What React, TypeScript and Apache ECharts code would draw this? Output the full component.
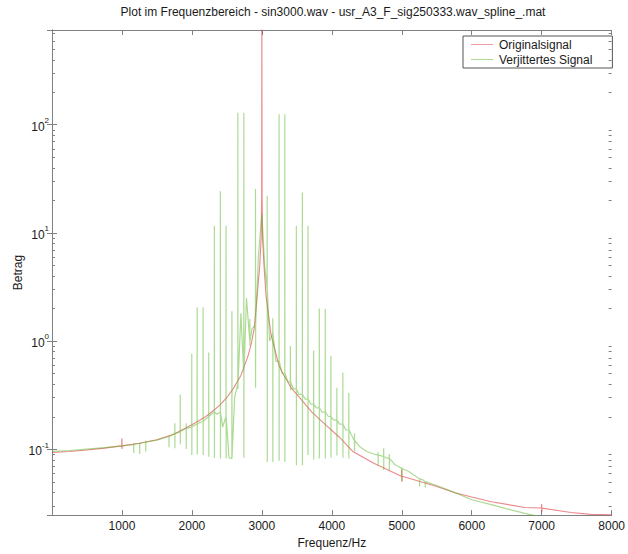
import React, { useEffect, useRef } from 'react';
import * as echarts from 'echarts';

const TITLE = 'Plot im Frequenzbereich - sin3000.wav - usr_A3_F_sig250333.wav_spline_.mat';
const X_NAME = 'Frequenz/Hz';
const Y_NAME = 'Betrag';
const SERIES_NAMES = ['Originalsignal', 'Verjittertes Signal'];

// Originalsignal (red)
const redF = [0, 250, 500, 750, 995, 1000, 1001, 1006, 1250, 1500, 1750, 2000, 2100, 2200, 2300, 2400, 2500, 2600, 2700, 2800, 2850, 2890, 2930, 2970, 2990, 2997, 3000, 3001, 3003, 3010, 3030, 3060, 3130, 3245, 3300, 3430, 3500, 3715, 3900, 4100, 4300, 4600, 4995, 5000, 5001, 5006, 5500, 5760, 6000, 6280, 6760, 6995, 7000, 7001, 7006, 7420, 7700, 8000];
const redV = [0.093, 0.095, 0.098, 0.102, 0.107, 0.126, 0.1, 0.107, 0.113, 0.122, 0.138, 0.168, 0.183, 0.2, 0.225, 0.255, 0.3, 0.37, 0.48, 0.72, 0.95, 1.3, 2.5, 5, 9, 22, 2000, 300, 22, 9, 5, 2.6, 1.15, 0.59, 0.5, 0.36, 0.32, 0.22, 0.17, 0.13, 0.095, 0.074, 0.056, 0.065, 0.05, 0.056, 0.045, 0.0395, 0.036, 0.0326, 0.0288, 0.0285, 0.031, 0.026, 0.0284, 0.0259, 0.0249, 0.0247];

// Verjittertes Signal (green): smooth part
const greenBaseF = [0, 250, 500, 750, 1000, 1100, 1200, 1300, 1400, 1500, 1600, 1700, 1800, 1870, 1950, 2030, 2110, 2200, 2280, 2360, 2440, 2530, 2610, 2700, 2780, 2860, 2950, 3000, 3040, 3110, 3200, 3290, 3370, 3450, 3530, 3620, 3700, 3780, 3860, 3950, 4030, 4110, 4200, 4280, 4400, 4500, 4600, 4700, 4780, 4900, 5100, 5200, 5300, 5500, 5760, 6000, 6280, 6500, 6760, 7000, 7500, 8000];
const greenBaseV = [0.095, 0.097, 0.1, 0.103, 0.107, 0.109, 0.112, 0.115, 0.118, 0.121, 0.127, 0.133, 0.142, 0.15, 0.157, 0.165, 0.176, 0.19, 0.21, 0.21, 0.16, 0.083, 0.3, 1.8, 2.5, 1.3, 6, 15, 5, 1.0, 0.65, 0.5, 0.42, 0.36, 0.32, 0.29, 0.26, 0.24, 0.22, 0.2, 0.185, 0.17, 0.15, 0.135, 0.105, 0.095, 0.09, 0.087, 0.083, 0.072, 0.062, 0.056, 0.052, 0.046, 0.0395, 0.034, 0.0306, 0.028, 0.0254, 0.0235, 0.021, 0.019];

// Verjittertes Signal: sideband spikes (position, level around it, peak, dip)
const spikeF = [1167, 1252, 1338, 1670, 1755, 1832, 1917, 1997, 2074, 2159, 2240, 2320, 2406, 2487, 2571, 2656, 2741, 2827, 2908, 3075, 3155, 3245, 3327, 3407, 3492, 3578, 3658, 3739, 3820, 3905, 3986, 4071, 4157, 4242, 4323, 4660, 4740, 4821, 5000, 5253, 5334];
const spikeLevel = [0.109, 0.112, 0.115, 0.13, 0.14, 0.145, 0.155, 0.16, 0.17, 0.18, 0.2, 0.22, 0.22, 0.2, 0.082, 0.4, 0.5, 1.0, 1.4, 3, 1.2, 0.65, 0.5, 0.42, 0.36, 0.32, 0.29, 0.26, 0.24, 0.22, 0.2, 0.185, 0.17, 0.15, 0.12, 0.088, 0.085, 0.082, 0.066, 0.053, 0.05];
const spikeTop = [0.113, 0.115, 0.12, 0.134, 0.173, 0.32, 0.173, 0.76, 2.05, 2.05, 0.78, 11.6, 24.2, 11.6, 1.88, 129, 129, 1.6, 25.5, 22, 1.62, 125, 125, 0.9, 11.6, 23.6, 11.6, 0.81, 2.0, 1.97, 0.73, 0.37, 0.51, 0.33, 0.14, 0.094, 0.102, 0.09, 0.068, 0.054, 0.05];
const spikeDip = [0.092, 0.09, 0.095, 0.104, 0.102, 0.111, 0.1, 0.088, 0.089, 0.088, 0.085, 0.083, 0.082, 0.082, 0.082, 0.36, 0.083, 0.9, 0.37, 0.076, 0.076, 0.078, 0.076, 0.35, 0.071, 0.071, 0.088, 0.08, 0.082, 0.082, 0.083, 0.087, 0.083, 0.082, 0.095, 0.071, 0.064, 0.064, 0.05, 0.045, 0.044];

const X_MIN = 0;
const X_MAX = 8000;
const X_INTERVAL = 1000;
const Y_MIN = 0.0245;
const Y_MAX = 752;
const MINOR_MANTISSA = [2, 3, 4, 5, 6, 7, 8, 9];
const MINOR_DECADES = [0.01, 0.1, 1, 10, 100];

const FONT = '"Liberation Sans", Arial, sans-serif';
const AXIS_COLOR = '#808080';
const TEXT_COLOR = '#1a1a1a';
const RED = '#e0393e';
const GREEN = '#5cb82c';

export default function App() {
  const ref = useRef<HTMLDivElement>(null);

  useEffect(() => {
    if (!ref.current) return;
    const chart = echarts.init(ref.current, null, { renderer: 'svg' });

    const redData = redF.map((f, i) => [f, redV[i]]);
    const greenData: number[][] = greenBaseF.map((f, i) => [f, greenBaseV[i]]);
    spikeF.forEach((f, i) => {
      greenData.push([f, spikeLevel[i]], [f + 1, spikeTop[i]], [f + 2, spikeDip[i]], [f + 3, spikeLevel[i]]);
    });
    greenData.sort((a, b) => a[0] - b[0]);

    const minorTicks: number[][] = [];
    MINOR_DECADES.forEach((d) => MINOR_MANTISSA.forEach((m) => {
      const v = m * d;
      if (v > Y_MIN && v < Y_MAX) minorTicks.push([X_MIN, v]);
    }));

    const yLabel = (v: number) => {
      const e = Math.log10(v);
      const r = Math.round(e);
      if (Math.abs(e - r) > 1e-6) return '';
      return '{b|10}{s|' + r + '}';
    };

    const tickStyle = { color: AXIS_COLOR, width: 1 };

    chart.setOption({
      animation: false,
      backgroundColor: '#ffffff',
      textStyle: { fontFamily: FONT },
      grid: { left: 52, right: 14, top: 30, bottom: 33, containLabel: false },
      graphic: [
        {
          type: 'text',
          x: 333,
          y: 6,
          style: {
            text: TITLE,
            fontSize: 12,
            fontFamily: FONT,
            fill: TEXT_COLOR,
            align: 'center',
            verticalAlign: 'top',
          },
        },
      ],
      legend: {
        data: [
          { name: SERIES_NAMES[0], icon: 'rect', itemStyle: { color: RED, opacity: 0.5 } },
          { name: SERIES_NAMES[1], icon: 'rect', itemStyle: { color: GREEN, opacity: 0.5 } },
        ],
        orient: 'vertical',
        left: 463,
        top: 36,
        width: 149,
        itemWidth: 22,
        itemHeight: 1,
        itemGap: 2,
        padding: [2, 20, 2, 8],
        borderColor: '#555',
        borderWidth: 1,
        borderRadius: 0,
        backgroundColor: '#ffffff',
        textStyle: { fontSize: 12, fontFamily: FONT, color: TEXT_COLOR, padding: [0, 0, 0, 1], lineHeight: 13 },
      },
      xAxis: [
        {
          type: 'value',
          position: 'bottom',
          min: X_MIN,
          max: X_MAX,
          interval: X_INTERVAL,
          name: X_NAME,
          nameLocation: 'middle',
          nameGap: 21,
          nameTextStyle: { fontSize: 12, fontFamily: FONT, color: TEXT_COLOR },
          axisLine: { show: true, lineStyle: tickStyle },
          axisTick: { show: true, inside: true, length: 5, lineStyle: tickStyle },
          axisLabel: {
            margin: 5,
            fontSize: 12,
            fontFamily: FONT,
            color: TEXT_COLOR,
            formatter: (v: number) => (v === 0 ? '' : String(v)),
          },
          splitLine: { show: false },
        },
        {
          type: 'value',
          position: 'top',
          min: X_MIN,
          max: X_MAX,
          interval: X_INTERVAL,
          axisLine: { show: true, lineStyle: tickStyle },
          axisTick: { show: true, inside: true, length: 5, lineStyle: tickStyle },
          axisLabel: { show: false },
          splitLine: { show: false },
        },
      ],
      yAxis: [
        {
          type: 'log',
          logBase: 10,
          position: 'left',
          min: Y_MIN,
          max: Y_MAX,
          name: Y_NAME,
          nameLocation: 'middle',
          nameGap: 28,
          nameMoveOverlap: false,
          nameTextStyle: { fontSize: 12, fontFamily: FONT, color: TEXT_COLOR },
          axisLine: { show: true, lineStyle: tickStyle },
          axisTick: { show: true, inside: true, length: 5, lineStyle: tickStyle },
          axisLabel: {
            margin: 3,
            formatter: yLabel,
            rich: {
              b: { fontSize: 12, fontFamily: FONT, color: TEXT_COLOR, verticalAlign: 'bottom' },
              s: { fontSize: 8, fontFamily: FONT, color: TEXT_COLOR, verticalAlign: 'bottom', padding: [0, 0, 8, 0] },
            },
          },
          splitLine: { show: false },
        },
        {
          type: 'log',
          logBase: 10,
          position: 'right',
          min: Y_MIN,
          max: Y_MAX,
          axisLine: { show: true, lineStyle: tickStyle },
          axisTick: { show: true, inside: true, length: 5, lineStyle: tickStyle },
          axisLabel: { show: false },
          splitLine: { show: false },
        },
      ],
      series: [
        {
          name: SERIES_NAMES[0],
          type: 'line',
          xAxisIndex: 0,
          yAxisIndex: 0,
          data: redData,
          symbol: 'none',
          showSymbol: false,
          clip: true,
          lineStyle: { color: RED, width: 1.1, opacity: 0.6 },
          itemStyle: { color: RED, opacity: 0.6 },
          z: 2,
        },
        {
          name: SERIES_NAMES[1],
          type: 'line',
          xAxisIndex: 0,
          yAxisIndex: 0,
          data: greenData,
          symbol: 'none',
          showSymbol: false,
          clip: true,
          lineStyle: { color: GREEN, width: 1.2, opacity: 0.5 },
          itemStyle: { color: GREEN, opacity: 0.5 },
          z: 3,
        },
        {
          name: 'minorTicks',
          type: 'custom',
          xAxisIndex: 0,
          yAxisIndex: 0,
          silent: true,
          clip: false,
          data: minorTicks,
          renderItem: (params: any, api: any) => {
            const v = api.value(1);
            const p0 = api.coord([X_MIN, v]);
            const p1 = api.coord([X_MAX, v]);
            const y = Math.round(p0[1]) + 0.5;
            return {
              type: 'group',
              children: [
                { type: 'line', shape: { x1: p0[0], y1: y, x2: p0[0] + 3, y2: y }, style: { stroke: AXIS_COLOR, lineWidth: 1 } },
                { type: 'line', shape: { x1: p1[0] - 3, y1: y, x2: p1[0], y2: y }, style: { stroke: AXIS_COLOR, lineWidth: 1 } },
              ],
            };
          },
          z: 4,
        },
      ],
    });

    return () => chart.dispose();
  }, []);

  return <div ref={ref} style={{ width: 628, height: 554, position: 'absolute', left: 0, top: 0 }} />;
}
